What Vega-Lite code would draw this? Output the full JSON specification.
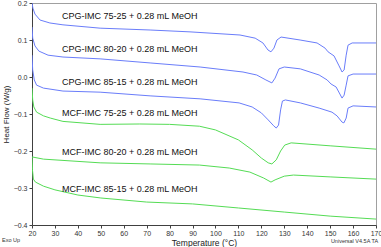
{
  "$schema": "https://vega.github.io/schema/vega-lite/v6.json",
  "width": 344,
  "height": 222,
  "autosize": {"type": "none"},
  "padding": {"left": 32, "top": 3, "right": 5, "bottom": 22},
  "background": "white",
  "config": {
    "view": {"stroke": "#a0a0a0", "strokeWidth": 1},
    "font": "Liberation Sans",
    "axis": {"grid": false, "domainColor": "#404040", "tickColor": "#404040", "labelColor": "#333333", "labelFont": "Liberation Sans", "titleFont": "Liberation Sans", "titleFontWeight": "normal", "titleColor": "#222222", "labelOverlap": false}
  },
  "datasets": {
    "curves": [
      {"series": "CPG-IMC 75-25", "T": 20, "HF": 0.2},
      {"series": "CPG-IMC 75-25", "T": 20.4, "HF": 0.186},
      {"series": "CPG-IMC 75-25", "T": 21.3, "HF": 0.17},
      {"series": "CPG-IMC 75-25", "T": 23.5, "HF": 0.154},
      {"series": "CPG-IMC 75-25", "T": 27.8, "HF": 0.146},
      {"series": "CPG-IMC 75-25", "T": 33.5, "HF": 0.141},
      {"series": "CPG-IMC 75-25", "T": 49.7, "HF": 0.132},
      {"series": "CPG-IMC 75-25", "T": 71.5, "HF": 0.127},
      {"series": "CPG-IMC 75-25", "T": 88.9, "HF": 0.122},
      {"series": "CPG-IMC 75-25", "T": 110.7, "HF": 0.1135},
      {"series": "CPG-IMC 75-25", "T": 117.3, "HF": 0.105},
      {"series": "CPG-IMC 75-25", "T": 120.7, "HF": 0.092},
      {"series": "CPG-IMC 75-25", "T": 122.9, "HF": 0.073},
      {"series": "CPG-IMC 75-25", "T": 124.2, "HF": 0.068},
      {"series": "CPG-IMC 75-25", "T": 125.5, "HF": 0.078},
      {"series": "CPG-IMC 75-25", "T": 126.8, "HF": 0.1},
      {"series": "CPG-IMC 75-25", "T": 128.6, "HF": 0.108},
      {"series": "CPG-IMC 75-25", "T": 136.9, "HF": 0.1},
      {"series": "CPG-IMC 75-25", "T": 144.3, "HF": 0.092},
      {"series": "CPG-IMC 75-25", "T": 147.8, "HF": 0.078},
      {"series": "CPG-IMC 75-25", "T": 149.1, "HF": 0.068},
      {"series": "CPG-IMC 75-25", "T": 151.7, "HF": 0.057},
      {"series": "CPG-IMC 75-25", "T": 153.9, "HF": 0.03},
      {"series": "CPG-IMC 75-25", "T": 155.2, "HF": 0.0135},
      {"series": "CPG-IMC 75-25", "T": 156.1, "HF": 0.019},
      {"series": "CPG-IMC 75-25", "T": 157.0, "HF": 0.059},
      {"series": "CPG-IMC 75-25", "T": 157.8, "HF": 0.086},
      {"series": "CPG-IMC 75-25", "T": 159.6, "HF": 0.092},
      {"series": "CPG-IMC 75-25", "T": 170, "HF": 0.092},

      {"series": "CPG-IMC 80-20", "T": 20, "HF": 0.135},
      {"series": "CPG-IMC 80-20", "T": 20.3, "HF": 0.105},
      {"series": "CPG-IMC 80-20", "T": 21.3, "HF": 0.084},
      {"series": "CPG-IMC 80-20", "T": 23, "HF": 0.07},
      {"series": "CPG-IMC 80-20", "T": 27, "HF": 0.059},
      {"series": "CPG-IMC 80-20", "T": 33.5, "HF": 0.054},
      {"series": "CPG-IMC 80-20", "T": 49.7, "HF": 0.049},
      {"series": "CPG-IMC 80-20", "T": 71.5, "HF": 0.038},
      {"series": "CPG-IMC 80-20", "T": 93.3, "HF": 0.027},
      {"series": "CPG-IMC 80-20", "T": 112, "HF": 0.0135},
      {"series": "CPG-IMC 80-20", "T": 118, "HF": 0.0054},
      {"series": "CPG-IMC 80-20", "T": 122, "HF": -0.008},
      {"series": "CPG-IMC 80-20", "T": 124.6, "HF": -0.016},
      {"series": "CPG-IMC 80-20", "T": 126, "HF": -0.003},
      {"series": "CPG-IMC 80-20", "T": 127.7, "HF": 0.022},
      {"series": "CPG-IMC 80-20", "T": 130, "HF": 0.027},
      {"series": "CPG-IMC 80-20", "T": 137, "HF": 0.022},
      {"series": "CPG-IMC 80-20", "T": 145.2, "HF": 0.0054},
      {"series": "CPG-IMC 80-20", "T": 148.7, "HF": -0.008},
      {"series": "CPG-IMC 80-20", "T": 150.4, "HF": -0.019},
      {"series": "CPG-IMC 80-20", "T": 152.6, "HF": -0.027},
      {"series": "CPG-IMC 80-20", "T": 155.2, "HF": -0.057},
      {"series": "CPG-IMC 80-20", "T": 156.1, "HF": -0.049},
      {"series": "CPG-IMC 80-20", "T": 157, "HF": -0.022},
      {"series": "CPG-IMC 80-20", "T": 157.8, "HF": 0.003},
      {"series": "CPG-IMC 80-20", "T": 160, "HF": 0.008},
      {"series": "CPG-IMC 80-20", "T": 170, "HF": 0.008},

      {"series": "CPG-IMC 85-15", "T": 20, "HF": 0.059},
      {"series": "CPG-IMC 85-15", "T": 20.3, "HF": 0.019},
      {"series": "CPG-IMC 85-15", "T": 21, "HF": -0.008},
      {"series": "CPG-IMC 85-15", "T": 22, "HF": -0.022},
      {"series": "CPG-IMC 85-15", "T": 25, "HF": -0.03},
      {"series": "CPG-IMC 85-15", "T": 33.5, "HF": -0.038},
      {"series": "CPG-IMC 85-15", "T": 49.7, "HF": -0.041},
      {"series": "CPG-IMC 85-15", "T": 71.5, "HF": -0.051},
      {"series": "CPG-IMC 85-15", "T": 93.3, "HF": -0.059},
      {"series": "CPG-IMC 85-15", "T": 110.3, "HF": -0.07},
      {"series": "CPG-IMC 85-15", "T": 116, "HF": -0.081},
      {"series": "CPG-IMC 85-15", "T": 120, "HF": -0.097},
      {"series": "CPG-IMC 85-15", "T": 123, "HF": -0.116},
      {"series": "CPG-IMC 85-15", "T": 125.4, "HF": -0.132},
      {"series": "CPG-IMC 85-15", "T": 126.5, "HF": -0.138},
      {"series": "CPG-IMC 85-15", "T": 127.5, "HF": -0.13},
      {"series": "CPG-IMC 85-15", "T": 128.4, "HF": -0.089},
      {"series": "CPG-IMC 85-15", "T": 129.2, "HF": -0.065},
      {"series": "CPG-IMC 85-15", "T": 130.5, "HF": -0.062},
      {"series": "CPG-IMC 85-15", "T": 137, "HF": -0.07},
      {"series": "CPG-IMC 85-15", "T": 145.2, "HF": -0.084},
      {"series": "CPG-IMC 85-15", "T": 150.8, "HF": -0.095},
      {"series": "CPG-IMC 85-15", "T": 153, "HF": -0.105},
      {"series": "CPG-IMC 85-15", "T": 155.2, "HF": -0.122},
      {"series": "CPG-IMC 85-15", "T": 156, "HF": -0.124},
      {"series": "CPG-IMC 85-15", "T": 157, "HF": -0.111},
      {"series": "CPG-IMC 85-15", "T": 157.8, "HF": -0.084},
      {"series": "CPG-IMC 85-15", "T": 160, "HF": -0.078},
      {"series": "CPG-IMC 85-15", "T": 170, "HF": -0.081},

      {"series": "MCF-IMC 75-25", "T": 20, "HF": -0.03},
      {"series": "MCF-IMC 75-25", "T": 20.3, "HF": -0.062},
      {"series": "MCF-IMC 75-25", "T": 20.8, "HF": -0.081},
      {"series": "MCF-IMC 75-25", "T": 22, "HF": -0.095},
      {"series": "MCF-IMC 75-25", "T": 25, "HF": -0.105},
      {"series": "MCF-IMC 75-25", "T": 28, "HF": -0.111},
      {"series": "MCF-IMC 75-25", "T": 33.5, "HF": -0.12},
      {"series": "MCF-IMC 75-25", "T": 49.7, "HF": -0.128},
      {"series": "MCF-IMC 75-25", "T": 67, "HF": -0.127},
      {"series": "MCF-IMC 75-25", "T": 80, "HF": -0.128},
      {"series": "MCF-IMC 75-25", "T": 93, "HF": -0.133},
      {"series": "MCF-IMC 75-25", "T": 100, "HF": -0.143},
      {"series": "MCF-IMC 75-25", "T": 110, "HF": -0.17},
      {"series": "MCF-IMC 75-25", "T": 116, "HF": -0.197},
      {"series": "MCF-IMC 75-25", "T": 120, "HF": -0.219},
      {"series": "MCF-IMC 75-25", "T": 123, "HF": -0.232},
      {"series": "MCF-IMC 75-25", "T": 124.6, "HF": -0.235},
      {"series": "MCF-IMC 75-25", "T": 126.5, "HF": -0.224},
      {"series": "MCF-IMC 75-25", "T": 128.4, "HF": -0.2},
      {"series": "MCF-IMC 75-25", "T": 130.2, "HF": -0.184},
      {"series": "MCF-IMC 75-25", "T": 133, "HF": -0.178},
      {"series": "MCF-IMC 75-25", "T": 150, "HF": -0.186},
      {"series": "MCF-IMC 75-25", "T": 170, "HF": -0.195},

      {"series": "MCF-IMC 80-20", "T": 20, "HF": -0.216},
      {"series": "MCF-IMC 80-20", "T": 25, "HF": -0.222},
      {"series": "MCF-IMC 80-20", "T": 49.7, "HF": -0.232},
      {"series": "MCF-IMC 80-20", "T": 71.5, "HF": -0.235},
      {"series": "MCF-IMC 80-20", "T": 93, "HF": -0.238},
      {"series": "MCF-IMC 80-20", "T": 106, "HF": -0.246},
      {"series": "MCF-IMC 80-20", "T": 115, "HF": -0.257},
      {"series": "MCF-IMC 80-20", "T": 121, "HF": -0.273},
      {"series": "MCF-IMC 80-20", "T": 124.2, "HF": -0.284},
      {"series": "MCF-IMC 80-20", "T": 126, "HF": -0.278},
      {"series": "MCF-IMC 80-20", "T": 130, "HF": -0.268},
      {"series": "MCF-IMC 80-20", "T": 134, "HF": -0.265},
      {"series": "MCF-IMC 80-20", "T": 150, "HF": -0.27},
      {"series": "MCF-IMC 80-20", "T": 170, "HF": -0.276},

      {"series": "MCF-IMC 85-15", "T": 20, "HF": -0.216},
      {"series": "MCF-IMC 85-15", "T": 20.2, "HF": -0.251},
      {"series": "MCF-IMC 85-15", "T": 20.6, "HF": -0.276},
      {"series": "MCF-IMC 85-15", "T": 21.5, "HF": -0.284},
      {"series": "MCF-IMC 85-15", "T": 25, "HF": -0.295},
      {"series": "MCF-IMC 85-15", "T": 30, "HF": -0.305},
      {"series": "MCF-IMC 85-15", "T": 40, "HF": -0.319},
      {"series": "MCF-IMC 85-15", "T": 50, "HF": -0.327},
      {"series": "MCF-IMC 85-15", "T": 70, "HF": -0.338},
      {"series": "MCF-IMC 85-15", "T": 90, "HF": -0.343},
      {"series": "MCF-IMC 85-15", "T": 110, "HF": -0.354},
      {"series": "MCF-IMC 85-15", "T": 130, "HF": -0.365},
      {"series": "MCF-IMC 85-15", "T": 150, "HF": -0.376},
      {"series": "MCF-IMC 85-15", "T": 170, "HF": -0.384}
    ],
    "labels": [
      {"series": "CPG-IMC 75-25", "label": "CPG-IMC 75-25 + 0.28 mL MeOH", "T": 33.1, "HF": 0.165},
      {"series": "CPG-IMC 80-20", "label": "CPG-IMC 80-20 + 0.28 mL MeOH", "T": 33.1, "HF": 0.0757},
      {"series": "CPG-IMC 85-15", "label": "CPG-IMC 85-15 + 0.28 mL MeOH", "T": 33.1, "HF": -0.0135},
      {"series": "MCF-IMC 75-25", "label": "MCF-IMC 75-25 + 0.28 mL MeOH", "T": 33.1, "HF": -0.0973},
      {"series": "MCF-IMC 80-20", "label": "MCF-IMC 80-20 + 0.28 mL MeOH", "T": 33.1, "HF": -0.2027},
      {"series": "MCF-IMC 85-15", "label": "MCF-IMC 85-15 + 0.28 mL MeOH", "T": 33.1, "HF": -0.3027}
    ],
    "one": [{}]
  },
  "layer": [
    {
      "data": {"name": "curves"},
      "mark": {"type": "line", "strokeWidth": 1, "clip": true},
      "encoding": {
        "x": {
          "field": "T", "type": "quantitative",
          "scale": {"domain": [20, 170], "nice": false, "zero": false},
          "axis": {"title": "Temperature (°C)", "values": [20,30,40,50,60,70,80,90,100,110,120,130,140,150,160,170], "labelOverlap": false, "tickSize": 3, "labelFontSize": 7, "titleFontSize": 8.5, "labelPadding": 1, "titlePadding": 2, "labelFlush": false}
        },
        "y": {
          "field": "HF", "type": "quantitative",
          "scale": {"domain": [-0.4, 0.2], "nice": false, "zero": false},
          "axis": {"title": "Heat Flow (W/g)", "values": [-0.4,-0.3,-0.2,-0.1,0,0.1,0.2], "format": ".1f", "labelOverlap": false, "tickSize": 3, "labelFontSize": 7, "titleFontSize": 8, "labelPadding": 2, "titlePadding": 3, "labelFlush": false}
        },
        "color": {
          "field": "series", "type": "nominal", "legend": null,
          "scale": {
            "domain": ["CPG-IMC 75-25", "CPG-IMC 80-20", "CPG-IMC 85-15", "MCF-IMC 75-25", "MCF-IMC 80-20", "MCF-IMC 85-15"],
            "range": ["#6a7dfa", "#6a7dfa", "#6a7dfa", "#55dc55", "#55dc55", "#55dc55"]
          }
        }
      }
    },
    {
      "data": {"name": "labels"},
      "mark": {"type": "text", "align": "left", "baseline": "middle", "fontSize": 9, "color": "#111111", "font": "Liberation Sans"},
      "encoding": {
        "x": {"field": "T", "type": "quantitative",
          "axis": {"title": "Temperature (°C)", "values": [20,30,40,50,60,70,80,90,100,110,120,130,140,150,160,170], "labelOverlap": false, "tickSize": 3, "labelFontSize": 7, "titleFontSize": 8.5, "labelPadding": 1, "titlePadding": 2, "labelFlush": false}},
        "y": {"field": "HF", "type": "quantitative",
          "axis": {"title": "Heat Flow (W/g)", "values": [-0.4,-0.3,-0.2,-0.1,0,0.1,0.2], "format": ".1f", "labelOverlap": false, "tickSize": 3, "labelFontSize": 7, "titleFontSize": 8, "labelPadding": 2, "titlePadding": 3, "labelFlush": false}},
        "text": {"field": "label"}
      }
    },
    {
      "data": {"name": "one"},
      "mark": {"type": "text", "align": "left", "baseline": "middle", "fontSize": 5.5, "color": "#333333"},
      "encoding": {
        "x": {"datum": 6.9, "type": "quantitative",
          "axis": {"title": "Temperature (°C)", "values": [20,30,40,50,60,70,80,90,100,110,120,130,140,150,160,170], "labelOverlap": false, "tickSize": 3, "labelFontSize": 7, "titleFontSize": 8.5, "labelPadding": 1, "titlePadding": 2, "labelFlush": false}},
        "y": {"datum": -0.4405, "type": "quantitative",
          "axis": {"title": "Heat Flow (W/g)", "values": [-0.4,-0.3,-0.2,-0.1,0,0.1,0.2], "format": ".1f", "labelOverlap": false, "tickSize": 3, "labelFontSize": 7, "titleFontSize": 8, "labelPadding": 2, "titlePadding": 3, "labelFlush": false}},
        "text": {"value": "Exo Up"}
      }
    },
    {
      "data": {"name": "one"},
      "mark": {"type": "text", "align": "right", "baseline": "middle", "fontSize": 5.5, "color": "#333333"},
      "encoding": {
        "x": {"datum": 170.9, "type": "quantitative",
          "axis": {"title": "Temperature (°C)", "values": [20,30,40,50,60,70,80,90,100,110,120,130,140,150,160,170], "labelOverlap": false, "tickSize": 3, "labelFontSize": 7, "titleFontSize": 8.5, "labelPadding": 1, "titlePadding": 2, "labelFlush": false}},
        "y": {"datum": -0.4425, "type": "quantitative",
          "axis": {"title": "Heat Flow (W/g)", "values": [-0.4,-0.3,-0.2,-0.1,0,0.1,0.2], "format": ".1f", "labelOverlap": false, "tickSize": 3, "labelFontSize": 7, "titleFontSize": 8, "labelPadding": 2, "titlePadding": 3, "labelFlush": false}},
        "text": {"value": "Universal V4.5A TA"}
      }
    }
  ]
}
